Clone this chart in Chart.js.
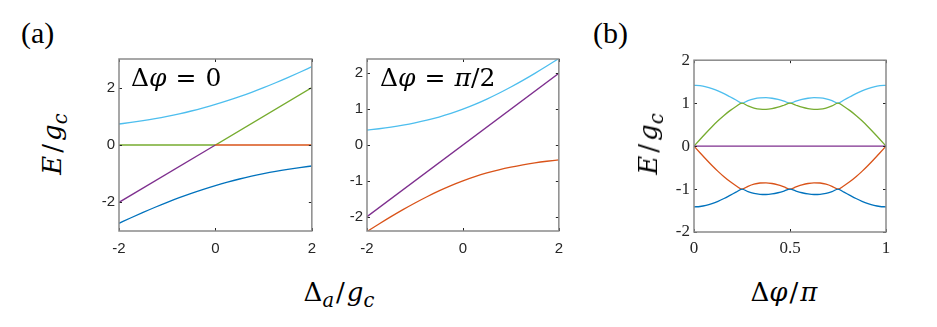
<!DOCTYPE html>
<html><head><meta charset="utf-8">
<script src="https://cdn.jsdelivr.net/npm/chart.js@4/dist/chart.umd.min.js"></script>
<style>
body{margin:0;background:#fff}
#wrap{position:relative;width:937px;height:327px;overflow:hidden;background:#fff}
canvas{position:absolute}
.t{position:absolute;white-space:nowrap;line-height:1;color:#000}
.m{font-family:"DejaVu Serif",serif}
.r{font-family:"Liberation Serif","Times New Roman",serif}
i{font-style:italic}
sub{font-size:0.75em;vertical-align:-0.3em;line-height:0}
</style></head>
<body><div id="wrap">
<canvas id="c1" width="245" height="220" style="left:80px;top:46px;width:245px;height:220px"></canvas>
<canvas id="c2" width="245" height="220" style="left:327px;top:46px;width:245px;height:220px"></canvas>
<canvas id="c3" width="245" height="220" style="left:654px;top:46px;width:245px;height:220px"></canvas>
<div class="t r" style="left:21px;top:18px;font-size:30px">(a)</div>
<div class="t r" style="left:593px;top:18px;font-size:30px">(b)</div>
<div class="t m" style="left:131px;top:65px;font-size:25px">Δ<i>φ</i><span style="margin:0 9px">=</span>0</div>
<div class="t m" style="left:380px;top:65px;font-size:25px">Δ<i>φ</i><span style="margin:0 9px">=</span><i>π</i>/2</div>
<div class="t m" style="left:52px;top:144px;font-size:26px;transform:translate(-50%,-50%) rotate(-90deg)"><i>E</i><span style="margin:0 3px">/</span><i>g</i><sub><i>c</i></sub></div>
<div class="t m" style="left:648px;top:144px;font-size:26px;transform:translate(-50%,-50%) rotate(-90deg)"><i>E</i><span style="margin:0 3px">/</span><i>g</i><sub><i>c</i></sub></div>
<div class="t m" style="left:339px;top:292px;font-size:26px;transform:translate(-50%,-50%)">Δ<sub><i>a</i></sub><span style="margin:0 2px">/</span><i>g</i><sub><i>c</i></sub></div>
<div class="t m" style="left:784px;top:292px;font-size:26px;transform:translate(-50%,-50%)">Δ<i>φ</i><span style="margin:0 2px">/</span><i>π</i></div>
</div>
<script>
// ---------- data ----------
// panel (a) left: Δφ = 0
const xs1 = [-2,-1.75,-1.5,-1.25,-1,-0.75,-0.5,-0.25,0,0.25,0.5,0.75,1,1.25,1.5,1.75,2];
const cyan1 = [0.732,0.788,0.851,0.921,1.000,1.088,1.186,1.295,1.414,1.545,1.686,1.838,2.000,2.171,2.351,2.538,2.732];
const blue1 = [-2.732,-2.538,-2.351,-2.171,-2.000,-1.838,-1.686,-1.545,-1.414,-1.295,-1.186,-1.088,-1.000,-0.921,-0.851,-0.788,-0.732];
const purple1X = [-2,0];
const purple1Y = [-2,0];
const green1X = [-2,0,2];
const green1Y = [0,0,2];
const orange1X = [0,2];
const orange1Y = [0,0];
const xTicks1 = [-2,0,2];
const yTicks1 = [-2,0,2];

// panel (a) right: Δφ = π/2
const xs2 = [-2,-1.75,-1.5,-1.25,-1,-0.75,-0.5,-0.25,0,0.25,0.5,0.75,1,1.25,1.5,1.75,2];
const cyan2 = [0.414,0.454,0.500,0.554,0.618,0.693,0.781,0.883,1.000,1.133,1.281,1.443,1.618,1.804,2.000,2.204,2.414];
const orange2 = [-2.414,-2.204,-2.000,-1.804,-1.618,-1.443,-1.281,-1.133,-1.000,-0.883,-0.781,-0.693,-0.618,-0.554,-0.500,-0.454,-0.414];
const purple2X = [-2,2];
const purple2Y = [-2,2];
const xTicks2 = [-2,0,2];
const yTicks2 = [-2,-1,0,1,2];

// panel (b)
const xs3 = [0,0.03125,0.0625,0.09375,0.125,0.15625,0.1875,0.21875,0.25,0.28125,0.3125,0.34375,0.375,0.40625,0.4375,0.46875,0.5,
  0.53125,0.5625,0.59375,0.625,0.65625,0.6875,0.71875,0.75,0.78125,0.8125,0.84375,0.875,0.90625,0.9375,0.96875,1];
const cyan3 = [1.414,1.406,1.381,1.340,1.286,1.221,1.148,1.073,1.000,1.060,1.101,1.123,1.127,1.114,1.086,1.047,1.000,
  1.047,1.086,1.114,1.127,1.123,1.101,1.060,1.000,1.073,1.148,1.221,1.286,1.340,1.381,1.406,1.414];
const green3 = [0,0.155,0.306,0.452,0.589,0.714,0.826,0.922,1.000,0.936,0.887,0.859,0.854,0.871,0.905,0.951,1.000,
  0.951,0.905,0.871,0.854,0.859,0.887,0.936,1.000,0.922,0.826,0.714,0.589,0.452,0.306,0.155,0];
const orange3 = [0,-0.155,-0.306,-0.452,-0.589,-0.714,-0.826,-0.922,-1.000,-0.936,-0.887,-0.859,-0.854,-0.871,-0.905,-0.951,-1.000,
  -0.951,-0.905,-0.871,-0.854,-0.859,-0.887,-0.936,-1.000,-0.922,-0.826,-0.714,-0.589,-0.452,-0.306,-0.155,0];
const blue3 = [-1.414,-1.406,-1.381,-1.340,-1.286,-1.221,-1.148,-1.073,-1.000,-1.060,-1.101,-1.123,-1.127,-1.114,-1.086,-1.047,-1.000,
  -1.047,-1.086,-1.114,-1.127,-1.123,-1.101,-1.060,-1.000,-1.073,-1.148,-1.221,-1.286,-1.340,-1.381,-1.406,-1.414];
const purple3X = [0,1];
const purple3Y = [0,0];
const xTicks3 = [0,0.5,1];
const yTicks3 = [-2,-1,0,1,2];
const xTickLabels3 = ['0','0.5','1'];

// ---------- styles ----------
const C = {blue:'#0072BD', orange:'#D95319', purple:'#7E2F8E', green:'#77AC30', cyan:'#4DBEEE'};
const pts = (xs, ys) => xs.map((x,i)=>({x:x, y:ys[i]}));
const ds = (xs, ys, col) => ({data:pts(xs,ys), borderColor:col, borderWidth:1.3, pointRadius:0,
  fill:false, cubicInterpolationMode:'monotone'});
const seg = (xs, ys, col) => ({data:pts(xs,ys), borderColor:col, borderWidth:1.3, pointRadius:0,
  fill:false, tension:0});

const framePlugin = {
  id:'frame',
  afterDatasetsDraw(chart){
    const {ctx, chartArea:a, scales:{x, y}} = chart;
    ctx.save();
    ctx.strokeStyle = '#262626'; ctx.lineWidth = 1;
    const L = 3;
    ctx.beginPath();
    x.ticks.forEach(t=>{const p = Math.round(x.getPixelForValue(t.value))+0.5;
      ctx.moveTo(p,a.bottom); ctx.lineTo(p,a.bottom-L); ctx.moveTo(p,a.top); ctx.lineTo(p,a.top+L);});
    y.ticks.forEach(t=>{const p = Math.round(y.getPixelForValue(t.value))+0.5;
      ctx.moveTo(a.left,p); ctx.lineTo(a.left+L,p); ctx.moveTo(a.right,p); ctx.lineTo(a.right-L,p);});
    ctx.stroke();
    ctx.strokeStyle = '#8a8a8a'; ctx.lineWidth = 1.5;
    ctx.strokeRect(a.left, a.top, a.right-a.left, a.bottom-a.top);
    ctx.restore();
  }
};

function make(id, datasets, xr, yr, xt, yt, font, yW, xH, padR, xPad, yPad, xLabels){
  return new Chart(document.getElementById(id), {
    type:'line',
    data:{datasets:datasets},
    options:{
      responsive:false, animation:false, events:[],
      layout:{padding:{top:10, right:padR, left:0, bottom:0}},
      plugins:{legend:{display:false}, tooltip:{enabled:false}},
      scales:{
        x:{type:'linear', min:xr[0], max:xr[1], grid:{display:false, drawTicks:false}, border:{display:false},
          afterBuildTicks:s=>{s.ticks = xt.map(v=>({value:v}));},
          afterFit:s=>{s.height = xH;},
          ticks:{font:font, color:'#262626', padding:xPad, maxRotation:0, autoSkip:false,
            callback:(v,i)=> xLabels ? xLabels[i] : String(v)}},
        y:{type:'linear', min:yr[0], max:yr[1], grid:{display:false, drawTicks:false}, border:{display:false},
          afterBuildTicks:s=>{s.ticks = yt.map(v=>({value:v}));},
          afterFit:s=>{s.width = yW;},
          ticks:{font:font, color:'#262626', padding:yPad, autoSkip:false, callback:v=>String(v)}}
      }
    },
    plugins:[framePlugin]
  });
}

const sans = {family:'"Liberation Sans", Arial, sans-serif', size:15};
const serif = {family:'"Liberation Serif", "Times New Roman", serif', size:17};

make('c1', [
  ds(xs1, blue1, C.blue), seg(orange1X, orange1Y, C.orange), seg(purple1X, purple1Y, C.purple),
  seg(green1X, green1Y, C.green), ds(xs1, cyan1, C.cyan)
], [-2,2], [-3,3], xTicks1, yTicks1, sans, 39, 35, 13, 9, 4);

make('c2', [
  ds(xs2, orange2, C.orange), seg(purple2X, purple2Y, C.purple), ds(xs2, cyan2, C.cyan)
], [-2,2], [-2.4,2.4], xTicks2, yTicks2, sans, 40, 35, 13, 9, 4);

make('c3', [
  ds(xs3, blue3, C.blue), ds(xs3, orange3, C.orange), seg(purple3X, purple3Y, C.purple),
  ds(xs3, green3, C.green), ds(xs3, cyan3, C.cyan)
], [0,1], [-2,2], xTicks3, yTicks3, serif, 40, 34, 13, 6, 4, xTickLabels3);
</script>
</body></html>
